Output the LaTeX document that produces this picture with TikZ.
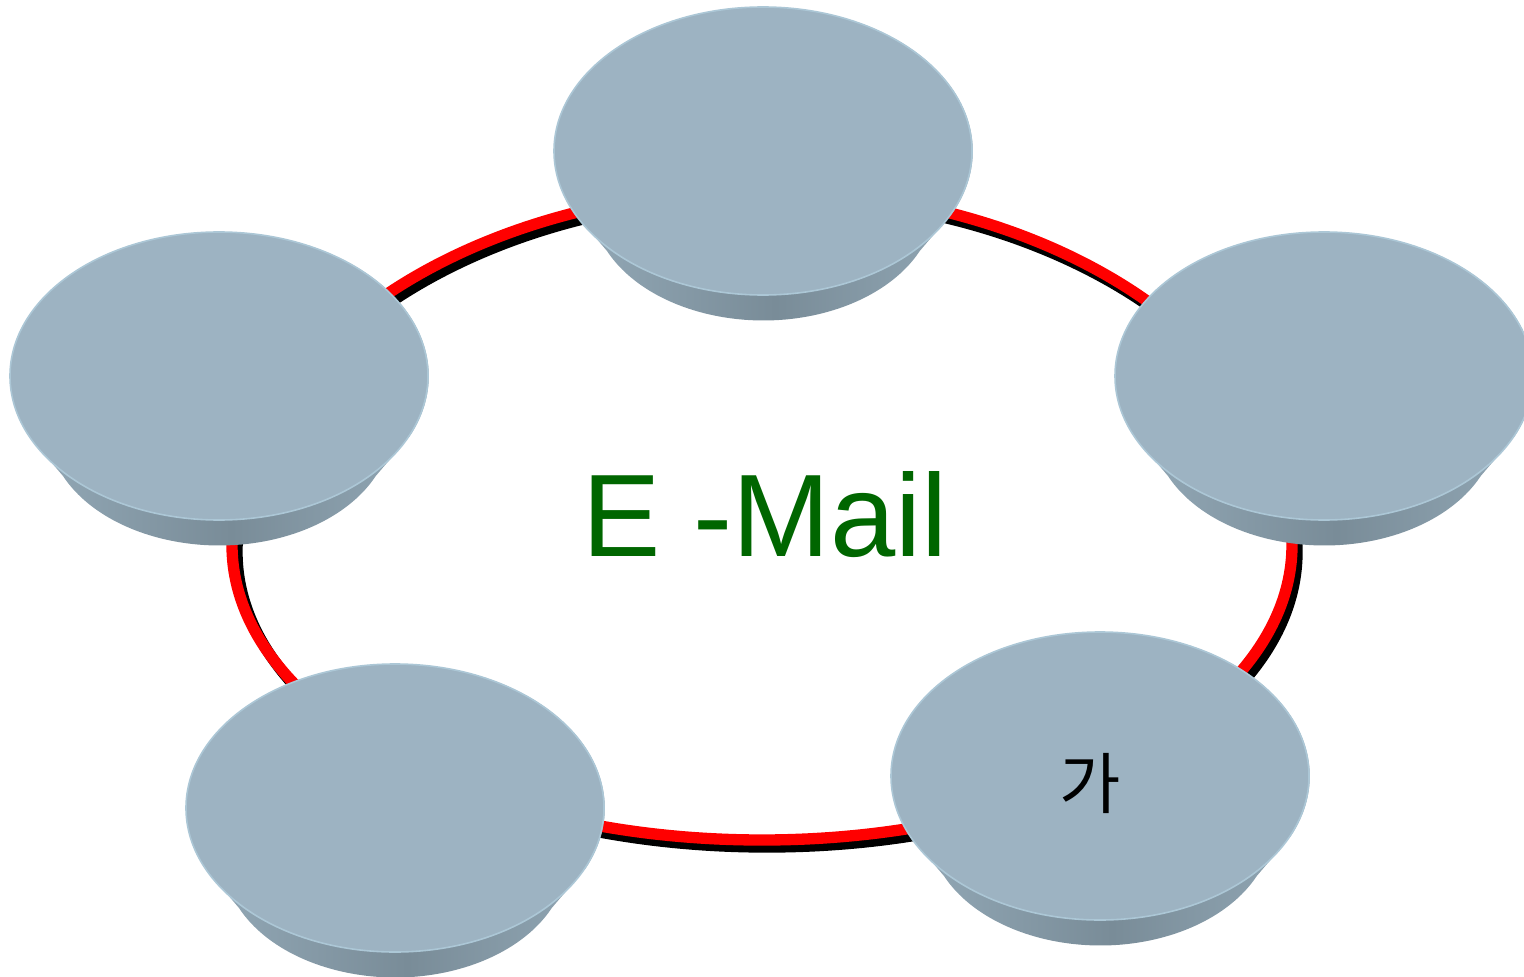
\documentclass[tikz,border=0pt]{standalone}
\usepackage{fontspec}
\setmainfont{Liberation Sans}
\newfontfamily\krfont{Noto Sans CJK KR}

\definecolor{sideedge}{RGB}{150,172,186}
\definecolor{sidemid}{RGB}{121,140,152}

\tikzset{every picture/.style={line width=0.75pt}}
\tikzset{
  disc side/.style={left color=sideedge, right color=sideedge, middle color=sidemid},
  disc top/.style={fill={rgb, 255:red, 157; green, 179; blue, 194 }, draw={rgb, 255:red, 172; green, 199; blue, 214 }, line width=1.2pt},
  ring/.style={line width=8.5pt}
}

\begin{document}
\begin{tikzpicture}[x=0.75pt,y=0.75pt,yscale=-1,xscale=1]
\useasboundingbox (0,0) rectangle (1524,977);

%Shape: Ring shadow
\draw  [ring][color={rgb, 255:red, 0; green, 0; blue, 0 }  ,draw opacity=1 ] (1297,552) arc[start angle=0, end angle=-180, x radius=530, y radius=355] arc[start angle=180, end angle=0, x radius=530, y radius=295] -- cycle ;
%Shape: Ring
\draw  [ring][color={rgb, 255:red, 255; green, 0; blue, 0 }  ,draw opacity=1 ] (1292,545) arc[start angle=0, end angle=-180, x radius=530, y radius=355] arc[start angle=180, end angle=0, x radius=530, y radius=295] -- cycle ;

%Shape: Discs (side, then top face)
\foreach \cx/\cy in {763/151, 219/376, 1324/376, 395/808, 1100/776}{
  \shade [disc side] (\cx,\cy) ++(-190,60) -- ++(34,40) arc[start angle=155.4, end angle=24.6, x radius=172, y radius=119] -- ++(34,-40) arc[start angle=24.6, end angle=-204.6, x radius=209, y radius=144] -- cycle ;
  \draw [disc top] (\cx,\cy) ellipse [x radius=209, y radius=144] ;
}

% Text Node
\draw (765,556) node (email) [anchor=base][inner sep=0.75pt]  [font=\fontsize{88}{100}\selectfont, color={rgb, 255:red, 0; green, 102; blue, 0 }] {E -Mail};
% Text Node
\draw (1090,783) node (ga) [inner sep=0.75pt]  [font=\krfont\fontsize{50}{58}\selectfont] {가};

\end{tikzpicture}
\end{document}
